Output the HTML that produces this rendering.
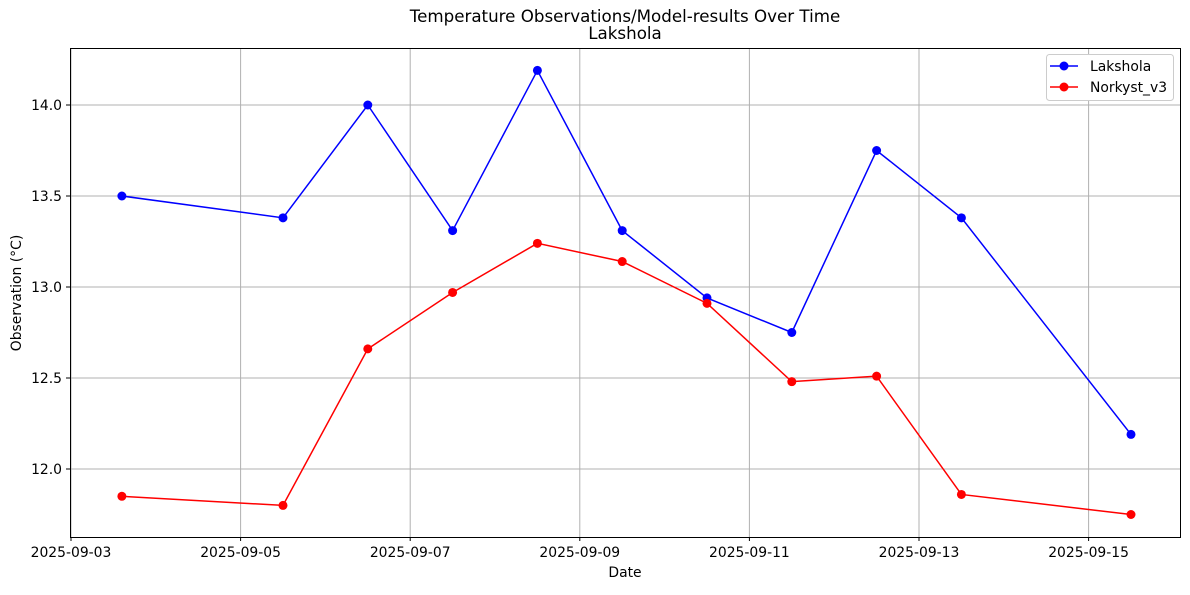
<!DOCTYPE html>
<html><head><meta charset="utf-8"><style>
body{margin:0;background:#fff;font-family:"Liberation Sans","DejaVu Sans",sans-serif}
svg text{font-family:"DejaVu Sans","Liberation Sans",sans-serif;fill:#000}
</style></head><body>
<svg id="chart" width="1190" height="590" xmlns="http://www.w3.org/2000/svg">
<text x="625" y="22" text-anchor="middle" font-size="16.7">Temperature Observations/Model-results Over Time</text>
<text x="625" y="39" text-anchor="middle" font-size="16.7">Lakshola</text>
<g id="grid"></g><g id="ticks"></g><g id="series"></g>
<rect x="70.5" y="48.5" width="1110" height="489" fill="none" stroke="#000" stroke-width="1"/>
<text x="625" y="577" text-anchor="middle" font-size="13.9">Date</text>
<text transform="translate(21,293) rotate(-90)" text-anchor="middle" font-size="13.9">Observation (°C)</text>
<g>
<rect x="1046.5" y="54.5" width="127" height="46" rx="3" fill="#fff" stroke="#ccc"/>
<line x1="1050" y1="66" x2="1078" y2="66" stroke="#0000ff" stroke-width="1.5"/><circle cx="1064" cy="66" r="4.5" fill="#0000ff"/>
<text x="1090" y="71" font-size="13.9">Lakshola</text>
<line x1="1050" y1="87" x2="1078" y2="87" stroke="#ff0000" stroke-width="1.5"/><circle cx="1064" cy="87" r="4.5" fill="#ff0000"/>
<text x="1090" y="92" font-size="13.9">Norkyst_v3</text>
</g>
</svg>
<script>
const days=[3.6,5.5,6.5,7.5,8.5,9.5,10.5,11.5,12.5,13.5,15.5];
const lakshola=[13.5,13.38,14.0,13.31,14.19,13.31,12.94,12.75,13.75,13.38,12.19];
const norkyst=[11.85,11.80,12.66,12.97,13.24,13.14,12.91,12.48,12.51,11.86,11.75];
const xTickDays=[3,5,7,9,11,13,15];
const xTickLabels=["2025-09-03","2025-09-05","2025-09-07","2025-09-09","2025-09-11","2025-09-13","2025-09-15"];
const yTicks=[12.0,12.5,13.0,13.5,14.0];
const NS="http://www.w3.org/2000/svg";
const x=d=>71+(d-3)*84.8;
const y=v=>105+(14-v)*182;
function mk(tag,attrs,parent){const e=document.createElementNS(NS,tag);for(const k in attrs)e.setAttribute(k,attrs[k]);parent.appendChild(e);return e;}
const grid=document.getElementById('grid'),ticks=document.getElementById('ticks'),series=document.getElementById('series');
xTickDays.forEach((d,i)=>{
 const l=mk('line',{x1:x(d),x2:x(d),y1:48,y2:537,stroke:'#b0b0b0','stroke-width':1},grid);
 
 
 mk('line',{x1:x(d),x2:x(d),y1:537,y2:541,stroke:'#000'},ticks);
 const t=mk('text',{x:x(d),y:557,'text-anchor':'middle','font-size':13.9},ticks);
 
 
 t.textContent=xTickLabels[i];
});
yTicks.forEach(v=>{
 const l=mk('line',{x1:70,x2:1180,y1:y(v),y2:y(v),stroke:'#b0b0b0','stroke-width':1},grid);
 
 
 mk('line',{x1:66,x2:70,y1:y(v),y2:y(v),stroke:'#000'},ticks);
 const t=mk('text',{x:62,y:y(v)+5,'text-anchor':'end','font-size':13.9},ticks);
 
 
 t.textContent=v.toFixed(1);
});
function draw(vals,color,name){
 const p=mk('polyline',{points:vals.map((v,i)=>x(days[i])+','+y(v)).join(' '),fill:'none',stroke:color,'stroke-width':1.5},series);
 
 
 vals.forEach((v,i)=>{
  const c=mk('circle',{cx:x(days[i]),cy:y(v),r:4.5,fill:color},series);
  
  
 });
}
draw(lakshola,'#0000ff','lakshola');
draw(norkyst,'#ff0000','norkyst');
</script>
</body></html>
